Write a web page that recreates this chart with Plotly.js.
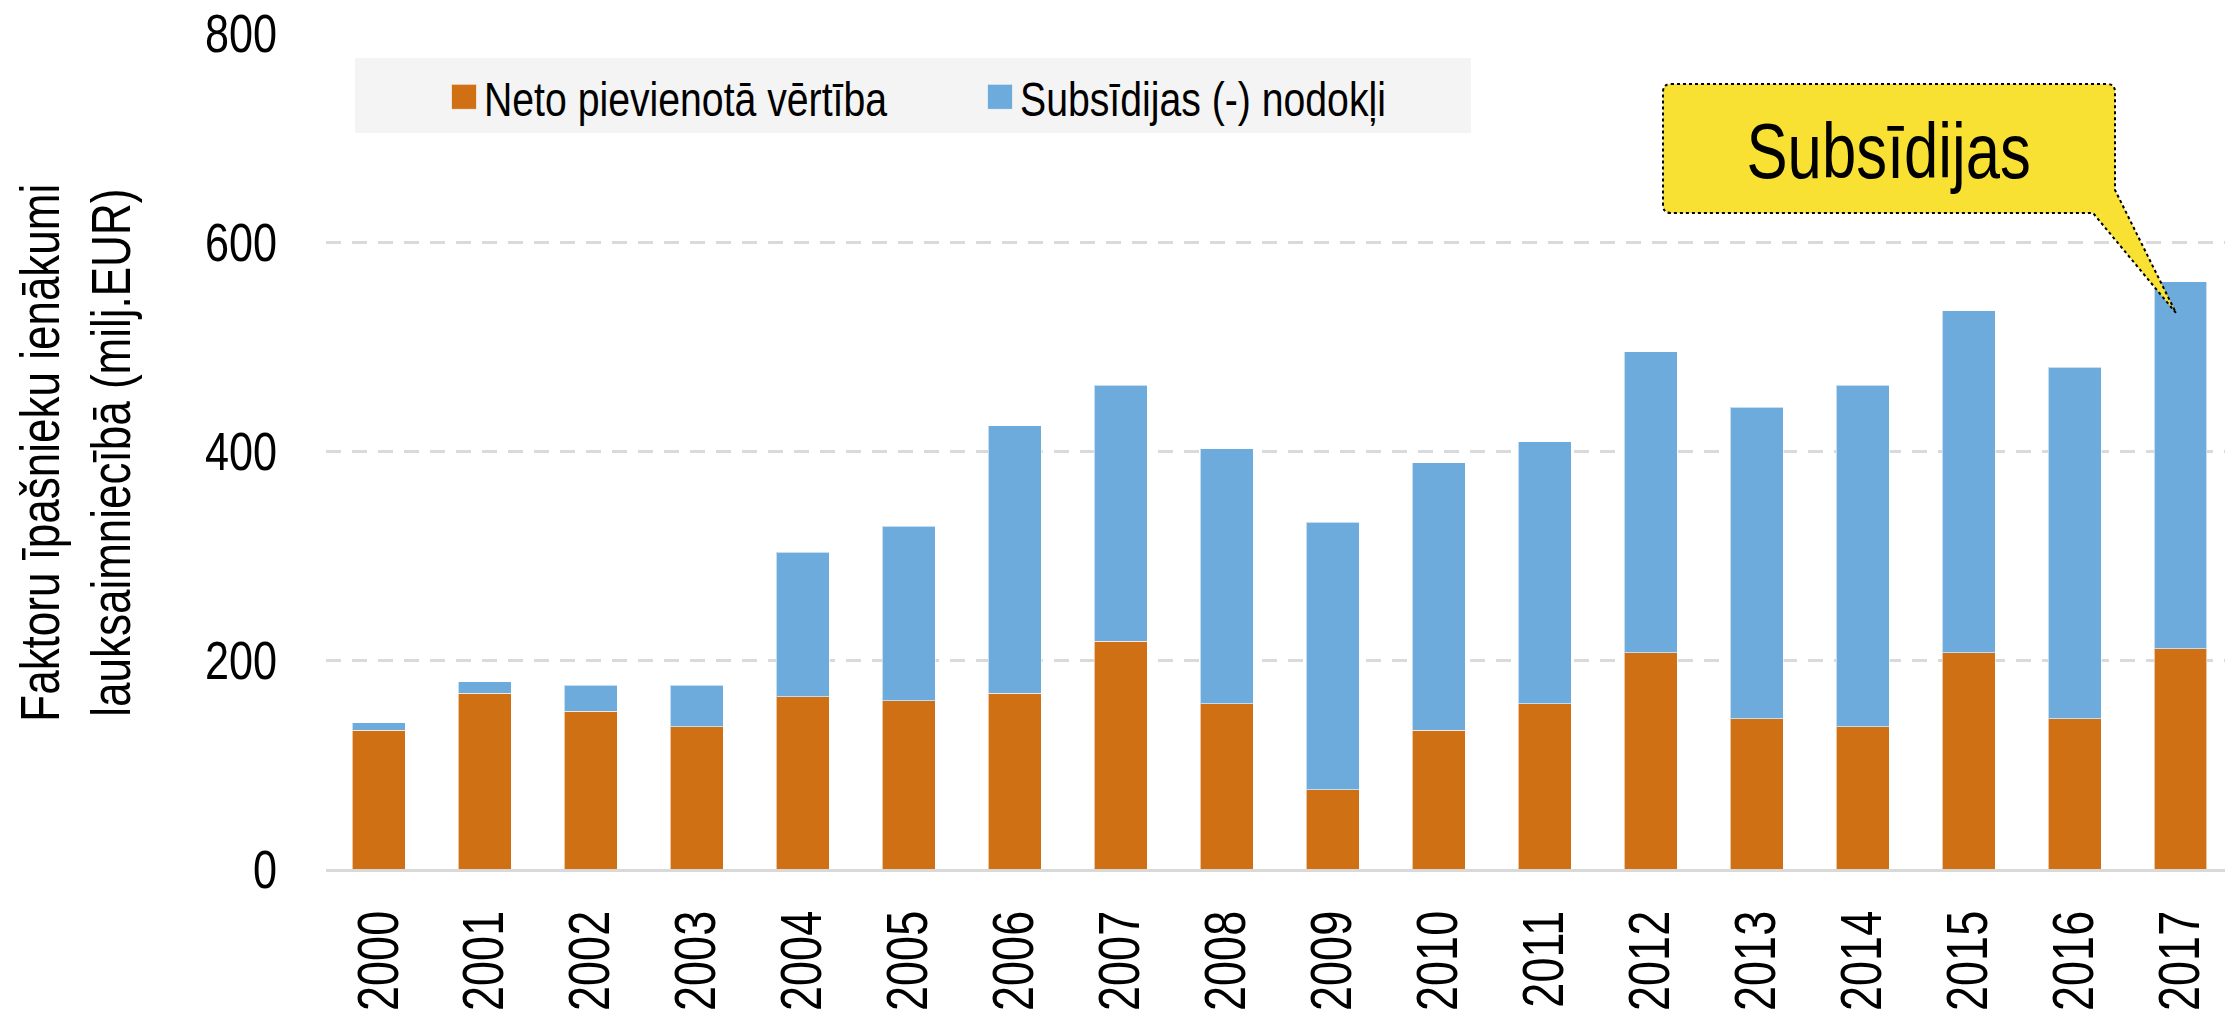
<!DOCTYPE html>
<html>
<head>
<meta charset="utf-8">
<script src="https://cdn.plot.ly/plotly-3.0.1.min.js"></script>
<style>
  html, body { margin: 0; padding: 0; background: #fff; }
  #chart { width: 2225px; height: 1011px; }
</style>
</head>
<body>
<div id="chart"></div>
<script>
const years = ["2000", "2001", "2002", "2003", "2004", "2005", "2006", "2007", "2008",
  "2009", "2010", "2011", "2012", "2013", "2014", "2015", "2016", "2017"];
const netoValues = [133, 168, 151, 136, 165, 161, 168, 218, 158, 76, 133, 158, 207, 144, 136, 207, 144, 211];
const subsidyValues = [7, 11, 25, 40, 138, 167, 256, 245, 244, 256, 256, 251, 288, 298, 327, 327, 336, 351];
const yTicks = [0, 200, 400, 600, 800];

const netoColor = "#D07014";
const subsidyColor = "#6CABDB";
const font = "Liberation Sans, Arial, sans-serif";

// plot box in pixels, used to place the legend box and the callout
const W = 2225, H = 1011;
const plotL = 326, plotT = 33, plotB = 869;
const px = (X) => (X - plotL) / (W - plotL);
const py = (Y) => (plotB - Y) / (plotB - plotT);

const traces = [
  {
    type: "bar",
    name: "Neto pievienotā vērtība",
    x: years,
    y: netoValues,
    marker: { color: netoColor, line: { color: "rgba(255,255,255,0.6)", width: 1 } },
  },
  {
    type: "bar",
    name: "Subsīdijas (-) nodokļi",
    x: years,
    y: subsidyValues,
    marker: { color: subsidyColor, line: { color: "rgba(255,255,255,0.6)", width: 1 } },
  },
];

const calloutPath =
  "M" + px(1671) + "," + py(84) +
  " H" + px(2107) +
  " Q" + px(2115) + "," + py(84) + " " + px(2115) + "," + py(92) +
  " V" + py(190) +
  " L" + px(2176) + "," + py(313) +
  " L" + px(2093) + "," + py(213) +
  " H" + px(1671) +
  " Q" + px(1663) + "," + py(213) + " " + px(1663) + "," + py(205) +
  " V" + py(92) +
  " Q" + px(1663) + "," + py(84) + " " + px(1671) + "," + py(84) + " Z";

const layout = {
  width: W,
  height: H,
  margin: { l: plotL, r: 0, t: plotT, b: H - plotB },
  paper_bgcolor: "#fff",
  plot_bgcolor: "#fff",
  barmode: "stack",
  bargap: 0.5,
  showlegend: true,
  legend: {
    orientation: "h",
    traceorder: "normal",
    x: px(444),
    xanchor: "left",
    y: py(97),
    yanchor: "middle",
    bgcolor: "rgba(0,0,0,0)",
    font: { family: font, size: 49, color: "#000" },
    entrywidth: 491,
    entrywidthmode: "pixels",
  },
  xaxis: {
    type: "category",
    range: [-0.5, 17.42],
    tickangle: -90,
    tickfont: { family: font, size: 57, color: "#000" },
    ticklabelstandoff: 16,
    showgrid: false,
    showline: true,
    linecolor: "#D9D9D9",
    linewidth: 3,
    ticks: "",
    fixedrange: true,
  },
  yaxis: {
    range: [0, 800],
    tickvals: yTicks,
    ticktext: yTicks.map(String),
    tickfont: { family: font, size: 54, color: "#000" },
    ticklabelstandoff: 48,
    showgrid: true,
    gridcolor: "#DADADA",
    gridwidth: 3,
    griddash: "14.5px,11.5px",
    zeroline: false,
    showline: false,
    ticks: "",
    fixedrange: true,
  },
  shapes: [
    {
      type: "rect",
      xref: "paper", yref: "paper",
      x0: px(355), x1: px(1471), y0: py(133), y1: py(58),
      fillcolor: "#F4F4F4",
      line: { width: 0 },
      layer: "below",
    },
    {
      type: "path",
      xref: "paper", yref: "paper",
      path: calloutPath,
      fillcolor: "#F8E132",
      line: { color: "#000", width: 2, dash: "dot" },
      layer: "above",
    },
  ],
  annotations: [
    {
      xref: "paper", yref: "paper",
      x: px(1888), y: py(151),
      xanchor: "center", yanchor: "middle",
      text: "Subsīdijas",
      showarrow: false,
      font: { family: font, size: 77, color: "#000" },
    },
    {
      xref: "paper", yref: "paper",
      x: px(76), y: py(453),
      xanchor: "center", yanchor: "middle",
      textangle: -90,
      text: "Faktoru īpašnieku ienākumi<br>lauksaimniecībā (milj.EUR)",
      showarrow: false,
      font: { family: font, size: 55, color: "#000" },
    },
  ],
};

// the original uses a condensed face; squeeze each text along its own reading direction
function squeeze(el, s, mode) {
  const bb = el.getBBox();
  const cx = mode === "start" ? bb.x : mode === "end" ? bb.x + bb.width : bb.x + bb.width / 2;
  const old = el.getAttribute("transform") || "";
  el.setAttribute("transform", old + " translate(" + cx + ",0) scale(" + s + ",1) translate(" + -cx + ",0)");
}

Plotly.newPlot("chart", traces, layout, { displayModeBar: false, staticPlot: true }).then((gd) => {
  // bigger legend swatches, like the original
  gd.querySelectorAll(".legendpoints path").forEach((p) => {
    p.setAttribute("d", "M12.5,12.5H-12.5V-12.5H12.5Z");
  });
  gd.querySelectorAll(".ytick text").forEach((t) => squeeze(t, 0.8, "end"));
  gd.querySelectorAll(".xtick text").forEach((t) => squeeze(t, 0.79, "end"));
  gd.querySelectorAll(".legendtext").forEach((t) => squeeze(t, 0.8, "start"));
  gd.querySelectorAll(".annotation-text").forEach((t) => squeeze(t, 0.8, "middle"));
});
</script>
</body>
</html>
